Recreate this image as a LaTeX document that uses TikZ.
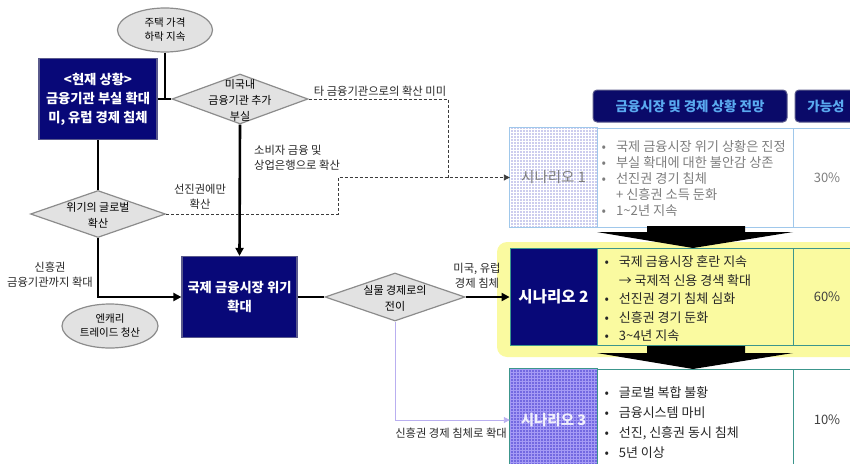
\documentclass[tikz,border=0pt]{standalone}
\usepackage{fontspec}
\setmainfont{Noto Sans CJK KR}
\usetikzlibrary{shapes.geometric,arrows.meta}
\definecolor{navy}{RGB}{8,8,120}
\definecolor{navyedge}{RGB}{90,90,140}
\definecolor{shapefill}{RGB}{226,226,226}
\definecolor{shapeedge}{RGB}{140,140,140}
\definecolor{dashcol}{RGB}{60,60,60}
\definecolor{lilac}{RGB}{185,175,240}
\definecolor{hdrtext}{RGB}{90,170,240}
\definecolor{hdrfill}{RGB}{10,10,105}
\definecolor{rowoneedge}{RGB}{160,200,235}
\definecolor{tealedge}{RGB}{60,150,140}
\definecolor{yellowbg}{RGB}{250,250,160}
\definecolor{lavfill}{RGB}{205,205,238}
\definecolor{purfill}{RGB}{115,105,225}
\definecolor{purgrid}{RGB}{165,155,245}
\definecolor{greytext}{RGB}{125,125,125}
\newcommand\bulitem{\makebox[1.1em][l]{•}}
\newcommand\noitem{\makebox[1.1em][l]{}}
\begin{document}
\begin{tikzpicture}[x=1pt,y=-1pt,
  ell/.style={ellipse, draw=shapeedge, fill=shapefill, line width=1.2pt, inner sep=0pt,
    align=center, font=\fontsize{10.5}{14}\selectfont},
  dia/.style={diamond, draw=shapeedge, fill=shapefill, line width=1.2pt, inner sep=0pt},
  diatext/.style={align=center, font=\fontsize{11}{16}\selectfont},
  navybox/.style={rectangle, fill=navy, draw=navyedge, line width=1.2pt, text=white,
    align=center, font=\bfseries\fontsize{13.3}{19}\selectfont},
  lbl/.style={align=center, font=\fontsize{11.3}{15}\selectfont, text=black!85, inner sep=1pt},
  flow/.style={line width=2.6pt, draw=black},
  flowarr/.style={flow, -{Triangle[length=8pt,width=8pt]}},
  dashline/.style={line width=0.9pt, draw=dashcol, dash pattern=on 3pt off 2pt},
  dasharr/.style={dashline, -{Triangle[length=6pt,width=6pt]}},
  purarr/.style={line width=0.9pt, draw=lilac, -{Triangle[length=6pt,width=6pt]}},
  hdr/.style={rectangle, rounded corners=4pt, fill=hdrfill, draw=navyedge, line width=1pt,
    text=hdrtext, font=\bfseries\fontsize{13.5}{15}\selectfont},
  cell/.style={rectangle, inner sep=0pt},
  pct/.style={font=\fontsize{13}{15}\selectfont}
]
\clip (0,0) rectangle (850,463);
\useasboundingbox (0,0) rectangle (850,463);

% ---------- left flow ----------
\node[ell, minimum width=95pt, minimum height=44pt] (house) at (165,30) {주택 가격\\하락 지속};
\node[navybox, minimum width=118pt, minimum height=81pt] (now) at (98,99)
  {<현재 상황>\\금융기관 부실 확대\\미, 유럽 경제 침체};
\node[dia, minimum width=136pt, minimum height=50pt] (d1) at (240,99) {};
\node[diatext] (d1t) at (240,100) {미국내\\금융기관 추가\\부실};
\node[dia, minimum width=135pt, minimum height=47pt] (d2) at (98,214) {};
\node[diatext] (d2t) at (98,215) {위기의 글로벌\\확산};
\node[ell, minimum width=96pt, minimum height=44pt] (yen) at (110,326) {엔캐리\\트레이드 청산};
\node[navybox, minimum width=115pt, minimum height=81pt] (crisis) at (239.5,297)
  {국제 금융시장 위기\\확대};
\node[dia, minimum width=140pt, minimum height=48pt] (d3) at (395,297) {};
\node[diatext] (d3t) at (395,298) {실물 경제로의\\전이};

\coordinate (j1) at (448,177.5);
\coordinate (j2) at (338,177.5);

% ---------- right table ----------
\node[hdr, minimum width=194pt, minimum height=32pt] (h1) at (690,106) {금융시장 및 경제 상황 전망};
\node[hdr, minimum width=62pt, minimum height=32pt] (h2) at (826,106) {가능성};

% row 1
\node[cell, fill=lavfill, minimum width=87pt, minimum height=99pt] (s1) at (553.5,177.5) {};
\draw[white, line width=0.5pt] (s1.north west) grid[step=3pt] (s1.south east);
\draw[rowoneedge, line width=1pt] (s1.north west) rectangle (s1.south east);
\node[font=\fontsize{14.5}{16}\selectfont, text=greytext] (s1t) at (s1) {시나리오 1};
\node[cell, draw=rowoneedge, line width=0.8pt, minimum width=196pt, minimum height=99pt] (t1) at (695,177.5) {};
\node[cell, draw=rowoneedge, line width=0.8pt, minimum width=68pt, minimum height=99pt] (p1) at (827,177.5) {};
\node[anchor=west, align=left, text=greytext, font=\fontsize{13.2}{16}\selectfont] (t1t) at (598,179)
  {\bulitem 국제 금융시장 위기 상황은 진정\\
   \bulitem 부실 확대에 대한 불안감 상존\\
   \bulitem 선진권 경기 침체\\
   \noitem + 신흥권 소득 둔화\\
   \bulitem 1\textasciitilde 2년 지속};
\node[pct, text=greytext] (p1t) at (p1) {30\%};

% row 2
\fill[yellowbg, rounded corners=10pt] (497,242) rectangle (880,357);
\node[cell, fill=navy, draw=tealedge, line width=0.8pt, minimum width=87pt, minimum height=97pt,
  text=white, font=\bfseries\fontsize{15.5}{17}\selectfont] (s2) at (553.5,297) {시나리오 2};
\node[cell, draw=tealedge, line width=0.8pt, minimum width=196pt, minimum height=97pt] (t2) at (695,297) {};
\node[cell, draw=tealedge, line width=0.8pt, minimum width=68pt, minimum height=97pt] (p2) at (827,297) {};
\node[anchor=west, align=left, text=black!85, font=\fontsize{13}{18.5}\selectfont] (t2t) at (601,299)
  {\bulitem 국제 금융시장 혼란 지속\\
   \noitem → 국제적 신용 경색 확대\\
   \bulitem 선진권 경기 침체 심화\\
   \bulitem 신흥권 경기 둔화\\
   \bulitem 3\textasciitilde 4년 지속};
\node[pct, text=black!75] (p2t) at (p2) {60\%};

% row 3
\node[cell, fill=purfill, minimum width=87pt, minimum height=102pt] (s3) at (553.5,420) {};
\draw[purgrid, line width=0.5pt] (s3.north west) grid[step=3pt] (s3.south east);
\draw[tealedge, line width=0.8pt] (s3.north west) rectangle (s3.south east);
\node[font=\bfseries\fontsize{14.5}{16}\selectfont, text=white!90!purfill] (s3t) at (s3) {시나리오 3};
\node[cell, draw=tealedge, line width=0.8pt, minimum width=196pt, minimum height=102pt] (t3) at (695,420) {};
\node[cell, draw=tealedge, line width=0.8pt, minimum width=68pt, minimum height=102pt] (p3) at (827,420) {};
\node[anchor=west, align=left, text=black!85, font=\fontsize{13}{20}\selectfont] (t3t) at (601,423)
  {\bulitem 글로벌 복합 불황\\
   \bulitem 금융시스템 마비\\
   \bulitem 선진, 신흥권 동시 침체\\
   \bulitem 5년 이상};
\node[pct, text=black!75] (p3t) at (p3) {10\%};

% big black arrows between rows
\fill[black] (647,226) -- (745,226) -- (745,232) -- (793,232) -- (693,248) -- (597,232) -- (647,232) -- cycle;
\fill[black] (647,346) -- (745,346) -- (745,353) -- (793,353) -- (693,369) -- (597,353) -- (647,353) -- cycle;

% ---------- connectors ----------
\draw[flow] (house.south) -- (house.south |- d1.west);
\draw[flow] (now.east |- d1.west) -- (d1.west);
\draw[flow] (now.south) -- (d2.north);
\draw[flowarr] (d1.south) -- (crisis.north);
\draw[flowarr] (d2.south) |- (crisis.west);
\draw[flow] (crisis.east) -- (d3.west);
\draw[flowarr] (d3.east) -- (s2.west);
\draw[purarr] (d3.south) |- (s3.west);
\draw[dashline] (d1.east) -| (j1);
\draw[dasharr] (d2.east) -| (j2) -- (s1.west);

% ---------- labels ----------
\node[lbl] (l1) at (380,91) {타 금융기관으로의 확산 미미};
\node[lbl, anchor=north west, align=left] (l2) at (253,144) {소비자 금융 및\\상업은행으로 확산};
\node[lbl] (l3) at (200,197) {선진권에만\\확산};
\node[lbl] (l4) at (50,275) {신흥권\\금융기관까지 확대};
\node[lbl] (l5) at (477,276) {미국, 유럽\\경제 침체};
\node[lbl, anchor=east] (l6) at (508,433) {신흥권 경제 침체로 확대};
\end{tikzpicture}
\end{document}
